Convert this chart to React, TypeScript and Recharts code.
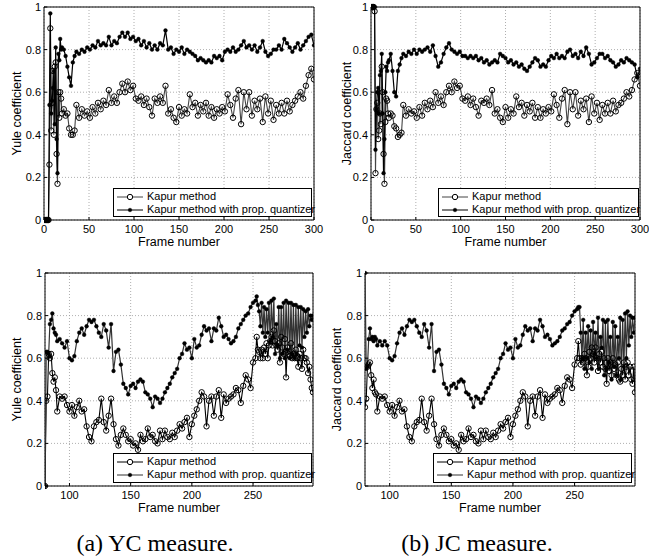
import React from 'react';
import { LineChart, Line, XAxis, YAxis, CartesianGrid, ReferenceArea, Legend } from 'recharts';

// ---------- categories / tick labels ----------
const topFrames = [
  1, 2, 3, 4, 5, 6, 7, 8, 9, 10, 11, 12, 13, 14, 15, 16, 17, 18, 19, 20,
  22, 24, 26, 28, 30, 32, 34,
  36, 39, 42, 45, 48, 51, 54, 57, 60, 63,
  66, 69, 72, 75, 78, 81, 84, 87, 90, 93,
  96, 99, 102, 105, 108, 111, 114, 117, 120, 123,
  126, 129, 132, 135, 138, 141, 144, 147, 150, 153,
  156, 159, 162, 165, 168, 171, 174, 177, 180, 183,
  186, 189, 192, 195, 198, 201, 204, 207, 210, 213,
  216, 219, 222, 225, 228, 231, 234, 237, 240, 243,
  246, 249, 252, 255, 258, 261, 264, 267, 270, 273,
  276, 279, 282, 285, 288, 291, 294, 297, 300,
];

const bottomFrames = [
  80, 81, 82, 83, 84, 85, 86, 87, 88, 89, 90,
  92, 94, 96, 98, 100, 102, 104, 106, 108, 110,
  112, 114, 116, 118, 120, 122, 124, 126, 128, 130,
  132, 134, 136, 138, 140, 142, 144, 146, 148, 150,
  152, 154, 156, 158, 160, 162, 164, 166, 168, 170,
  172, 174, 176, 178, 180, 182, 184, 186, 188, 190,
  192, 194, 196, 198, 200, 202, 204, 206, 208, 210,
  212, 214, 216, 218, 220, 222, 224, 226, 228, 230,
  232, 234, 236, 238, 240, 242, 244, 246, 248, 250,
  252,
  253, 254, 255, 256, 257, 258, 259, 260, 261, 262,
  263, 264, 265, 266, 267, 268, 269, 270, 271, 272,
  273, 274, 275, 276, 277, 278, 279, 280, 281, 282,
  283, 284, 285, 286, 287, 288, 289, 290, 291, 292,
  293, 294, 295, 296, 297, 298, 299,
];

const topXTicks = [0, 50, 100, 150, 200, 250, 300];
const bottomXTicks = [100, 150, 200, 250];
const yTicks = [0, 0.2, 0.4, 0.6, 0.8, 1];
const yTickLabels = ['0', '0.2', '0.4', '0.6', '0.8', '1'];
const seriesNames = ['Kapur method', 'Kapur method with prop. quantizer'];
const yAxisTitles = ['Yule coefficient', 'Jaccard coefficient'];
const xAxisTitle = 'Frame number';
const captions = ['(a) YC measure.', '(b) JC measure.'];

// ---------- series values ----------
const ycTopKapur = [
  0, 0, 0, 0, 0, 0.26, 0.9, 0.42, 0.55, 0.7, 0.4, 0.72, 0.74, 0.31, 0.17, 0.6, 0.48, 0.6, 0.57, 0.5,
  0.52, 0.49, 0.5, 0.43, 0.4, 0.4, 0.42,
  0.54, 0.48, 0.52, 0.49, 0.51, 0.48, 0.53, 0.5, 0.55, 0.52,
  0.56, 0.54, 0.61, 0.55, 0.58, 0.55, 0.6, 0.64, 0.6, 0.65,
  0.61, 0.63, 0.57, 0.56, 0.58, 0.54, 0.57, 0.53, 0.49, 0.57,
  0.55, 0.58, 0.55, 0.63, 0.5, 0.52, 0.48, 0.46, 0.53, 0.49,
  0.52, 0.5, 0.59, 0.53, 0.55, 0.49, 0.54, 0.51, 0.55, 0.49,
  0.53, 0.48, 0.52, 0.5, 0.53, 0.51, 0.59, 0.54, 0.48, 0.57,
  0.61, 0.45, 0.6, 0.52, 0.6, 0.49, 0.56, 0.52, 0.57, 0.46,
  0.58, 0.5, 0.56, 0.47, 0.54, 0.5, 0.55, 0.5, 0.56, 0.51,
  0.54, 0.56, 0.58, 0.6, 0.57, 0.63, 0.68, 0.71, 0.66,
];

const ycTopProp = [
  0, 0, 0, 0, 0, 0.54, 0.97, 0.5, 0.56, 0.62, 0.7, 0.45, 0.81, 0.38, 0.22, 0.78, 0.75, 0.85, 0.8, 0.81,
  0.8, 0.77, 0.72, 0.67, 0.63, 0.74, 0.77,
  0.79, 0.78, 0.8, 0.79, 0.81, 0.8, 0.82, 0.81, 0.84, 0.82,
  0.83, 0.82, 0.86, 0.82, 0.84, 0.83, 0.86, 0.88, 0.86, 0.88,
  0.85, 0.86, 0.84, 0.85, 0.82, 0.84, 0.81, 0.83, 0.8, 0.82,
  0.8, 0.83, 0.82, 0.89, 0.8, 0.81, 0.78, 0.8, 0.79, 0.81,
  0.78, 0.8, 0.79, 0.78, 0.77, 0.75, 0.76, 0.75, 0.74, 0.75,
  0.74, 0.77, 0.76, 0.77, 0.75, 0.79, 0.8, 0.79, 0.81, 0.79,
  0.8, 0.82, 0.84, 0.81, 0.82, 0.8, 0.82, 0.79, 0.81, 0.84,
  0.79, 0.77, 0.78, 0.8, 0.8, 0.82, 0.8, 0.85, 0.83, 0.81,
  0.79, 0.81, 0.83, 0.8, 0.82, 0.84, 0.86, 0.87, 0.82,
];

const jcTopKapur = [
  1, 1, 1, 0.98, 0.22, 0.52, 0.55, 0.38, 0.42, 0.5, 0.45, 0.72, 0.6, 0.31, 0.17, 0.46, 0.57, 0.56, 0.5, 0.48,
  0.5, 0.49, 0.44, 0.43, 0.39, 0.4, 0.41,
  0.54, 0.49, 0.52, 0.5, 0.51, 0.48, 0.53, 0.49, 0.55, 0.52,
  0.56, 0.53, 0.6, 0.55, 0.58, 0.54, 0.6, 0.63, 0.6, 0.65,
  0.62, 0.63, 0.57, 0.56, 0.58, 0.54, 0.57, 0.53, 0.49, 0.56,
  0.55, 0.57, 0.54, 0.61, 0.5, 0.52, 0.48, 0.46, 0.53, 0.48,
  0.52, 0.5, 0.58, 0.53, 0.55, 0.49, 0.54, 0.51, 0.55, 0.48,
  0.53, 0.48, 0.52, 0.5, 0.53, 0.51, 0.59, 0.54, 0.48, 0.57,
  0.61, 0.45, 0.6, 0.52, 0.6, 0.49, 0.56, 0.52, 0.57, 0.46,
  0.58, 0.5, 0.55, 0.47, 0.54, 0.5, 0.55, 0.5, 0.56, 0.51,
  0.54, 0.55, 0.57, 0.6, 0.58, 0.61, 0.66, 0.69, 0.63,
];

const jcTopProp = [
  1, 1, 1, 1, 0.33, 0.52, 0.6, 0.62, 0.5, 0.68, 0.7, 0.78, 0.5, 0.22, 0.38, 0.6, 0.72, 0.7, 0.74, 0.75,
  0.78, 0.7, 0.6, 0.58, 0.7, 0.73, 0.76,
  0.78, 0.77, 0.79, 0.78, 0.8, 0.78, 0.8, 0.79, 0.8, 0.81,
  0.79, 0.82, 0.77, 0.72, 0.74, 0.78, 0.81, 0.83, 0.8, 0.79,
  0.78, 0.79, 0.77, 0.77, 0.76, 0.77, 0.76, 0.77, 0.75, 0.76,
  0.74, 0.75, 0.73, 0.74, 0.75, 0.74, 0.78, 0.77, 0.76, 0.74,
  0.75, 0.73, 0.74, 0.72, 0.73, 0.71, 0.7, 0.72, 0.74, 0.76,
  0.75, 0.72, 0.73, 0.72, 0.75, 0.77, 0.76, 0.78, 0.76, 0.77,
  0.76, 0.79, 0.8, 0.77, 0.78, 0.76, 0.79, 0.77, 0.81, 0.78,
  0.73, 0.74, 0.76, 0.78, 0.78, 0.76, 0.77, 0.75, 0.74, 0.72,
  0.73, 0.75, 0.74, 0.76, 0.75, 0.74, 0.73, 0.67, 0.71,
];

const ycBottomKapur = [
  0, 0.4, 0.42, 0.62, 0.6, 0.62, 0.53, 0.49, 0.51, 0.45, 0.35,
  0.42, 0.41, 0.42, 0.38, 0.35, 0.38, 0.33, 0.37, 0.4, 0.35,
  0.36, 0.28, 0.23, 0.21, 0.28, 0.3, 0.31, 0.41, 0.3, 0.26,
  0.33, 0.41, 0.29, 0.22, 0.19, 0.24, 0.27, 0.24, 0.21, 0.22,
  0.19, 0.2, 0.17, 0.24, 0.21, 0.22, 0.27, 0.23, 0.24, 0.21,
  0.2, 0.26, 0.22, 0.26, 0.23, 0.22, 0.25, 0.23, 0.26, 0.29,
  0.27, 0.3, 0.32, 0.23, 0.29, 0.33, 0.36, 0.4, 0.44, 0.42,
  0.28, 0.4, 0.42, 0.33, 0.42, 0.45, 0.32, 0.43, 0.39, 0.41,
  0.42, 0.43, 0.46, 0.45, 0.39, 0.47, 0.52, 0.5, 0.46, 0.58,
  0.6,
  0.7, 0.64, 0.63, 0.6, 0.64, 0.6, 0.65, 0.62, 0.67, 0.6,
  0.66, 0.68, 0.7, 0.66, 0.73, 0.68, 0.66, 0.64, 0.67, 0.58,
  0.7, 0.65, 0.62, 0.69, 0.51, 0.65, 0.62, 0.61, 0.67, 0.6,
  0.62, 0.6, 0.64, 0.6, 0.56, 0.62, 0.6, 0.55, 0.64, 0.6,
  0.6, 0.58, 0.53, 0.56, 0.5, 0.46, 0.44,
];

const ycBottomProp = [
  0, 0.63, 0.63, 0.62, 0.76, 0.78, 0.81, 0.74, 0.72, 0.71, 0.68,
  0.69, 0.67, 0.65, 0.68, 0.6, 0.59, 0.61, 0.68, 0.72, 0.74,
  0.71, 0.75, 0.78, 0.77, 0.78, 0.75, 0.72, 0.7, 0.76, 0.73,
  0.65, 0.76, 0.54, 0.63, 0.64, 0.57, 0.48, 0.46, 0.43, 0.47,
  0.48, 0.46, 0.49, 0.5, 0.49, 0.44, 0.43, 0.41, 0.37, 0.42,
  0.41, 0.39, 0.41, 0.44, 0.46, 0.48, 0.51, 0.53, 0.55, 0.6,
  0.62, 0.67, 0.64, 0.65, 0.6, 0.69, 0.65, 0.66, 0.71, 0.75,
  0.73, 0.74, 0.68, 0.74, 0.73, 0.79, 0.75, 0.7, 0.71, 0.69,
  0.67, 0.68, 0.7, 0.74, 0.76, 0.78, 0.8, 0.81, 0.84, 0.86,
  0.87,
  0.89, 0.85, 0.82, 0.75, 0.86, 0.72, 0.84, 0.7, 0.83, 0.72,
  0.86, 0.68, 0.87, 0.7, 0.88, 0.62, 0.76, 0.66, 0.84, 0.6,
  0.84, 0.62, 0.86, 0.6, 0.87, 0.64, 0.86, 0.6, 0.86, 0.62,
  0.85, 0.6, 0.85, 0.62, 0.84, 0.66, 0.84, 0.65, 0.83, 0.7,
  0.82, 0.72, 0.83, 0.75, 0.8, 0.78, 0.8,
];

const jcBottomKapur = [
  0.37, 0.41, 0.56, 0.57, 0.58, 0.52, 0.46, 0.5, 0.44, 0.43, 0.35,
  0.42, 0.41, 0.42, 0.38, 0.35, 0.38, 0.33, 0.37, 0.4, 0.35,
  0.36, 0.28, 0.23, 0.21, 0.28, 0.3, 0.31, 0.41, 0.3, 0.26,
  0.33, 0.41, 0.29, 0.22, 0.19, 0.24, 0.27, 0.24, 0.21, 0.22,
  0.19, 0.2, 0.17, 0.24, 0.21, 0.22, 0.27, 0.23, 0.24, 0.21,
  0.2, 0.26, 0.22, 0.26, 0.23, 0.22, 0.25, 0.23, 0.26, 0.29,
  0.27, 0.3, 0.32, 0.23, 0.29, 0.33, 0.36, 0.4, 0.44, 0.42,
  0.28, 0.4, 0.42, 0.33, 0.42, 0.45, 0.32, 0.43, 0.39, 0.41,
  0.42, 0.43, 0.46, 0.45, 0.39, 0.47, 0.51, 0.5, 0.46, 0.57,
  0.6,
  0.68, 0.6, 0.57, 0.6, 0.58, 0.62, 0.6, 0.52, 0.56, 0.63,
  0.6, 0.65, 0.62, 0.58, 0.65, 0.6, 0.54, 0.62, 0.58, 0.63,
  0.56, 0.6, 0.55, 0.48, 0.6, 0.54, 0.58, 0.52, 0.6, 0.55,
  0.57, 0.52, 0.58, 0.5, 0.49, 0.55, 0.52, 0.58, 0.5, 0.56,
  0.58, 0.52, 0.56, 0.5, 0.48, 0.56, 0.44,
];

const jcBottomProp = [
  1, 0.55, 0.56, 0.69, 0.74, 0.69, 0.7, 0.68, 0.7, 0.69, 0.66,
  0.68, 0.66, 0.68, 0.66, 0.6, 0.59, 0.61, 0.67, 0.72, 0.74,
  0.71, 0.75, 0.78, 0.77, 0.78, 0.75, 0.72, 0.7, 0.76, 0.73,
  0.65, 0.76, 0.54, 0.63, 0.64, 0.57, 0.48, 0.46, 0.43, 0.47,
  0.48, 0.46, 0.49, 0.5, 0.49, 0.44, 0.43, 0.41, 0.37, 0.42,
  0.41, 0.39, 0.41, 0.44, 0.46, 0.48, 0.51, 0.53, 0.55, 0.6,
  0.62, 0.67, 0.64, 0.65, 0.6, 0.69, 0.65, 0.66, 0.71, 0.75,
  0.73, 0.74, 0.68, 0.74, 0.73, 0.78, 0.75, 0.7, 0.71, 0.69,
  0.66, 0.67, 0.68, 0.7, 0.73, 0.74, 0.76, 0.77, 0.8, 0.82,
  0.83,
  0.84, 0.84, 0.72, 0.6, 0.78, 0.55, 0.72, 0.6, 0.75, 0.58,
  0.73, 0.55, 0.77, 0.62, 0.72, 0.6, 0.79, 0.55, 0.7, 0.65,
  0.78, 0.52, 0.77, 0.55, 0.78, 0.58, 0.7, 0.5, 0.77, 0.56,
  0.75, 0.52, 0.7, 0.6, 0.79, 0.5, 0.78, 0.56, 0.81, 0.6,
  0.82, 0.66, 0.8, 0.7, 0.79, 0.72, 0.79,
];

// ---------- styles ----------
const SANS = '"Liberation Sans", Arial, Helvetica, sans-serif';
const SERIF = '"Liberation Serif", "Times New Roman", Times, serif';

const toPoints = (frames: number[], values: number[]) =>
  frames.slice(0, values.length).map((x, i) => ({ x, y: values[i] }));

type PanelProps = {
  left: number;
  top: number;
  width: number;
  height: number;
  margin: { top: number; right: number; bottom: number; left: number };
  frames: number[];
  kapur: number[];
  prop: number[];
  xDomain: [number, number];
  xTicks: number[];
  yTitle: string;
  yTitleDx: number;
  legend: { left: number; top: number; width: number; height: number };
  kapurColor: string;
  propColor: string;
};

const LegendMarker = ({ kind, color }: { kind: 'circle' | 'dot'; color: string }) => (
  <svg width={27} height={10} style={{ display: 'block', flex: '0 0 auto' }}>
    <line x1={0} y1={5} x2={26} y2={5} stroke={color} strokeWidth={1} />
    {kind === 'circle' ? (
      <circle cx={13} cy={5} r={2.7} fill="#fff" stroke="#000" strokeWidth={1} />
    ) : (
      <circle cx={13} cy={5} r={1.8} fill="#000" stroke="#000" strokeWidth={0.5} />
    )}
  </svg>
);

function Panel(p: PanelProps) {
  const kapurData = toPoints(p.frames, p.kapur);
  const propData = toPoints(p.frames, p.prop);

  const renderLegend = () => (
    <div
      style={{
        width: p.legend.width,
        height: p.legend.height,
        boxSizing: 'border-box',
        border: '1px solid #000',
        background: '#fff',
        fontFamily: SANS,
        fontSize: 11,
        color: '#000',
        paddingTop: 1,
        paddingLeft: 3,
      }}
    >
      <div style={{ display: 'flex', alignItems: 'center', height: 13, gap: 3 }}>
        <LegendMarker kind="circle" color={p.kapurColor} />
        <span style={{ whiteSpace: 'nowrap', lineHeight: '13px' }}>{seriesNames[0]}</span>
      </div>
      <div style={{ display: 'flex', alignItems: 'center', height: 13, gap: 3 }}>
        <LegendMarker kind="dot" color={p.propColor} />
        <span style={{ whiteSpace: 'nowrap', lineHeight: '13px' }}>{seriesNames[1]}</span>
      </div>
    </div>
  );

  const yTitleContent = (props: any) => {
    const vb = props.viewBox || { x: 0, y: 0, width: 0, height: 0 };
    const cx = vb.x + p.yTitleDx;
    const cy = vb.y + vb.height / 2;
    return (
      <text
        x={cx}
        y={cy}
        transform={`rotate(-90 ${cx} ${cy})`}
        textAnchor="middle"
        dominantBaseline="central"
        fontFamily={SANS}
        fontSize={12.5}
        fill="#000"
      >
        {p.yTitle}
      </text>
    );
  };

  const xTitleContent = (props: any) => {
    const vb = props.viewBox || { x: 0, y: 0, width: 0, height: 0 };
    return (
      <text
        x={vb.x + vb.width / 2}
        y={vb.y + 22}
        textAnchor="middle"
        dominantBaseline="central"
        fontFamily={SANS}
        fontSize={12.5}
        fill="#000"
      >
        {xAxisTitle}
      </text>
    );
  };

  return (
    <div style={{ position: 'absolute', left: p.left, top: p.top, width: p.width, height: p.height }}>
      <LineChart width={p.width} height={p.height} margin={p.margin}>
        <CartesianGrid stroke="#9a9a9a" strokeDasharray="1 2" strokeWidth={0.8} />
        <XAxis
          dataKey="x"
          type="number"
          domain={p.xDomain}
          ticks={p.xTicks}
          allowDataOverflow
          axisLine={false}
          tickLine={{ stroke: '#000', strokeWidth: 1 }}
          tickSize={-3}
          tickMargin={8}
          height={30}
          interval={0}
          tick={{ fontSize: 11, fill: '#000', fontFamily: SANS }}
          label={{ content: xTitleContent }}
        />
        <YAxis
          type="number"
          domain={[0, 1]}
          ticks={yTicks}
          tickFormatter={(v: number) => yTickLabels[yTicks.indexOf(v)] ?? String(v)}
          axisLine={false}
          tickLine={{ stroke: '#000', strokeWidth: 1 }}
          tickSize={-3}
          tickMargin={6}
          width={30}
          interval={0}
          tick={{ fontSize: 11, fill: '#000', fontFamily: SANS }}
          label={{ content: yTitleContent }}
        />
        <Line
          data={kapurData}
          dataKey="y"
          name={seriesNames[0]}
          type="linear"
          stroke={p.kapurColor}
          strokeWidth={1.1}
          dot={{ r: 2.7, fill: 'none', stroke: '#000', strokeWidth: 1 }}
          activeDot={false}
          isAnimationActive={false}
        />
        <Line
          data={propData}
          dataKey="y"
          name={seriesNames[1]}
          type="linear"
          stroke={p.propColor}
          strokeWidth={1.2}
          dot={{ r: 1.9, fill: '#000', stroke: '#000', strokeWidth: 0.4 }}
          activeDot={false}
          isAnimationActive={false}
        />
        <ReferenceArea
          x1={p.xDomain[0]}
          x2={p.xDomain[1]}
          y1={0}
          y2={1}
          fill="none"
          fillOpacity={0}
          stroke="#000"
          strokeWidth={1}
          ifOverflow="visible"
        />
        <Legend
          layout="horizontal"
          verticalAlign="middle"
          align="center"
          content={renderLegend}
          wrapperStyle={{
            position: 'absolute',
            left: p.legend.left,
            top: p.legend.top,
            width: p.legend.width,
            height: p.legend.height,
            margin: 0,
            padding: 0,
          }}
        />
      </LineChart>
    </div>
  );
}

export default function App() {
  return (
    <div
      style={{
        position: 'absolute',
        left: 0,
        top: 0,
        width: 649,
        height: 556,
        background: '#fff',
        overflow: 'hidden',
      }}
    >
      <Panel
        left={0}
        top={0}
        width={332}
        height={268}
        margin={{ top: 7, right: 18, bottom: 18, left: 14 }}
        frames={topFrames}
        kapur={ycTopKapur}
        prop={ycTopProp}
        xDomain={[0, 300]}
        xTicks={topXTicks}
        yTitle={yAxisTitles[0]}
        yTitleDx={3}
        legend={{ left: 113, top: 188, width: 199, height: 29 }}
        kapurColor="#444"
        propColor="#000"
      />
      <Panel
        left={320}
        top={0}
        width={329}
        height={268}
        margin={{ top: 7, right: 9, bottom: 18, left: 21 }}
        frames={topFrames}
        kapur={jcTopKapur}
        prop={jcTopProp}
        xDomain={[0, 300]}
        xTicks={topXTicks}
        yTitle={yAxisTitles[1]}
        yTitleDx={6}
        legend={{ left: 118, top: 188, width: 201, height: 29 }}
        kapurColor="#444"
        propColor="#000"
      />
      <Panel
        left={0}
        top={268}
        width={320}
        height={288}
        margin={{ top: 5, right: 7, bottom: 40, left: 15 }}
        frames={bottomFrames}
        kapur={ycBottomKapur}
        prop={ycBottomProp}
        xDomain={[80, 299]}
        xTicks={bottomXTicks}
        yTitle={yAxisTitles[0]}
        yTitleDx={2}
        legend={{ left: 113, top: 185, width: 199, height: 30 }}
        kapurColor="#000"
        propColor="#333"
      />
      <Panel
        left={320}
        top={268}
        width={329}
        height={288}
        margin={{ top: 5, right: 14, bottom: 40, left: 15 }}
        frames={bottomFrames}
        kapur={jcBottomKapur}
        prop={jcBottomProp}
        xDomain={[80, 299]}
        xTicks={bottomXTicks}
        yTitle={yAxisTitles[1]}
        yTitleDx={2}
        legend={{ left: 113, top: 185, width: 199, height: 30 }}
        kapurColor="#000"
        propColor="#333"
      />
      <div
        style={{
          position: 'absolute',
          left: 55,
          top: 529,
          width: 200,
          textAlign: 'center',
          fontFamily: SERIF,
          fontSize: 24,
          lineHeight: '28px',
          color: '#000',
        }}
      >
        {captions[0]}
      </div>
      <div
        style={{
          position: 'absolute',
          left: 377,
          top: 529,
          width: 200,
          textAlign: 'center',
          fontFamily: SERIF,
          fontSize: 24,
          lineHeight: '28px',
          color: '#000',
        }}
      >
        {captions[1]}
      </div>
    </div>
  );
}
